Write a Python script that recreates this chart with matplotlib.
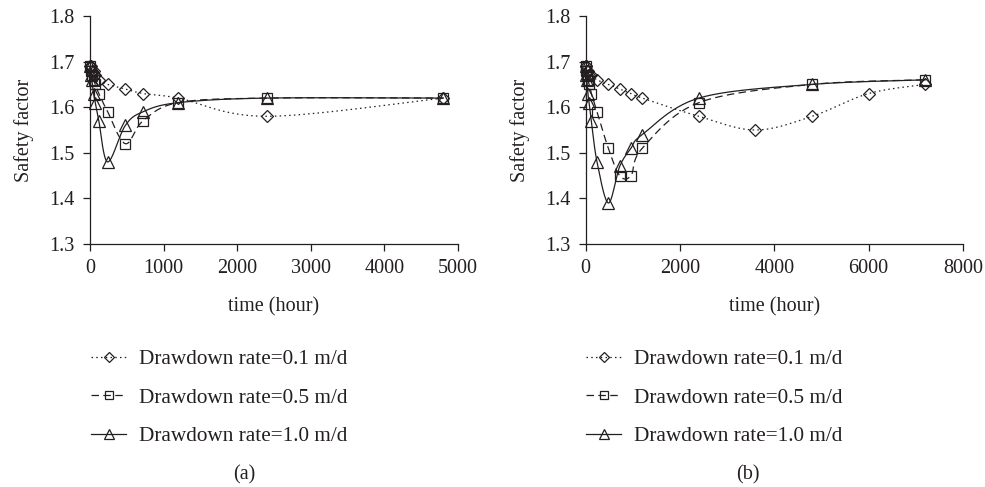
import numpy as np
import matplotlib
matplotlib.use("Agg")
import matplotlib.pyplot as plt
from matplotlib.lines import Line2D

plt.rcParams['font.family'] = ['Liberation Serif', 'DejaVu Serif']

# ---------------- data ----------------
series_labels = ["Drawdown rate=0.1 m/d", "Drawdown rate=0.5 m/d", "Drawdown rate=1.0 m/d"]

# panel (a)
a_t = [0, 12, 24, 48, 72, 120, 240, 480, 720, 1200, 2400, 4800]
a_r01 = [1.69, 1.69, 1.68, 1.68, 1.67, 1.66, 1.65, 1.64, 1.63, 1.62, 1.58, 1.62]
a_r05 = [1.69, 1.68, 1.67, 1.66, 1.65, 1.63, 1.59, 1.52, 1.57, 1.61, 1.62, 1.62]
a_r10 = [1.69, 1.67, 1.66, 1.63, 1.61, 1.57, 1.48, 1.56, 1.59, 1.61, 1.62, 1.62]

# panel (b)
b_t01 = [0, 12, 24, 48, 72, 120, 240, 480, 720, 960, 1200, 2400, 3600, 4800, 6000, 7200]
b_r01 = [1.69, 1.69, 1.68, 1.68, 1.67, 1.67, 1.66, 1.65, 1.64, 1.63, 1.62, 1.58, 1.55, 1.58, 1.63, 1.65]
b_t = [0, 12, 24, 48, 72, 120, 240, 480, 720, 960, 1200, 2400, 4800, 7200]
b_r05 = [1.69, 1.68, 1.67, 1.66, 1.65, 1.63, 1.59, 1.51, 1.45, 1.45, 1.51, 1.61, 1.65, 1.66]
b_r10 = [1.69, 1.67, 1.66, 1.63, 1.61, 1.57, 1.48, 1.39, 1.47, 1.51, 1.54, 1.62, 1.65, 1.66]

y_ticks = [1.3, 1.4, 1.5, 1.6, 1.7, 1.8]
a_xticks = [0, 1000, 2000, 3000, 4000, 5000]
b_xticks = [0, 2000, 4000, 6000, 8000]

INK = '#231f20'
FS = 14.5
LFS = 15.3


def smooth(x, y, n=30):
    """Catmull-Rom style smoothing (like spreadsheet 'smoothed line') for drawing only."""
    x = np.asarray(x, float)
    y = np.asarray(y, float)
    px = np.concatenate([[x[0]], x, [x[-1]]])
    py = np.concatenate([[y[0]], y, [y[-1]]])
    out_x, out_y = [], []
    s = np.linspace(0, 1, n)
    for i in range(1, len(px) - 2):
        p0 = np.array([px[i - 1], py[i - 1]])
        p1 = np.array([px[i], py[i]])
        p2 = np.array([px[i + 1], py[i + 1]])
        p3 = np.array([px[i + 2], py[i + 2]])
        c1 = p1 + (p2 - p0) / 6.0
        c2 = p2 - (p3 - p1) / 6.0
        for t in s:
            b = ((1 - t) ** 3) * p1 + 3 * ((1 - t) ** 2) * t * c1 + 3 * (1 - t) * t * t * c2 + t ** 3 * p2
            out_x.append(b[0])
            out_y.append(b[1])
    return np.array(out_x), np.array(out_y)


styles = [
    dict(ls=(0, (1.2, 2.6)), marker='D', ms=6.5),
    dict(ls=(0, (6, 3.5)), marker='s', ms=7),
    dict(ls='-', marker='^', ms=8.5),
]

fig = plt.figure(figsize=(9.85, 4.87), dpi=100)
W, H = 985, 487


def make_ax(x0, x1, y0, y1):
    return fig.add_axes([x0 / W, 1 - y1 / H, (x1 - x0) / W, (y1 - y0) / H])


def style_ax(ax, xmax, xticks):
    ax.set_xlim(0, xmax)
    ax.set_ylim(1.3, 1.8)
    ax.set_xticks(xticks)
    ax.set_yticks(y_ticks)
    ax.set_yticklabels([f"{v:.1f}" for v in y_ticks])
    for s in ['top', 'right']:
        ax.spines[s].set_visible(False)
    for s in ['left', 'bottom']:
        ax.spines[s].set_color(INK)
        ax.spines[s].set_linewidth(0.9)
    ax.tick_params(direction='out', length=5, width=0.9, colors=INK, labelsize=FS, pad=6)
    ax.set_ylabel("Safety factor", fontsize=FS, color=INK, labelpad=11)
    ax.set_xlabel("time (hour)", fontsize=FS, color=INK, labelpad=14)


def draw(ax, data):
    handles = []
    for (t, v), st, lab in zip(data, styles, series_labels):
        sx, sy = smooth(t, v)
        ax.plot(sx, sy, ls=st['ls'], color=INK, lw=0.9, clip_on=False)
        ax.plot(t, v, ls='none', marker=st['marker'], ms=st['ms'], mfc='none',
                mec=INK, mew=0.9, clip_on=False)
        handles.append(Line2D([], [], ls=st['ls'], color=INK, lw=0.9, marker=st['marker'],
                              ms=st['ms'] * 0.8, mfc='none', mec=INK, mew=0.9, label=lab))
    return handles


axa = make_ax(90, 458, 16, 244)
style_ax(axa, 5000, a_xticks)
ha = draw(axa, [(a_t, a_r01), (a_t, a_r05), (a_t, a_r10)])

axb = make_ax(585.7, 963, 16, 244)
style_ax(axb, 8000, b_xticks)
hb = draw(axb, [(b_t01, b_r01), (b_t, b_r05), (b_t, b_r10)])

for hs, x0 in [(ha, 72), (hb, 567)]:
    fig.legend(handles=hs, loc='upper left', bbox_to_anchor=(x0 / W, 1 - 330 / H),
               frameon=False, fontsize=LFS, handlelength=1.65, handletextpad=0.62,
               labelspacing=0.88, labelcolor=INK, numpoints=1)

fig.text(244 / W, 1 - 475 / H, "(a)", ha='center', va='center', fontsize=FS, color=INK)
fig.text(748 / W, 1 - 475 / H, "(b)", ha='center', va='center', fontsize=FS, color=INK)

fig.savefig("out.png", dpi=100)
